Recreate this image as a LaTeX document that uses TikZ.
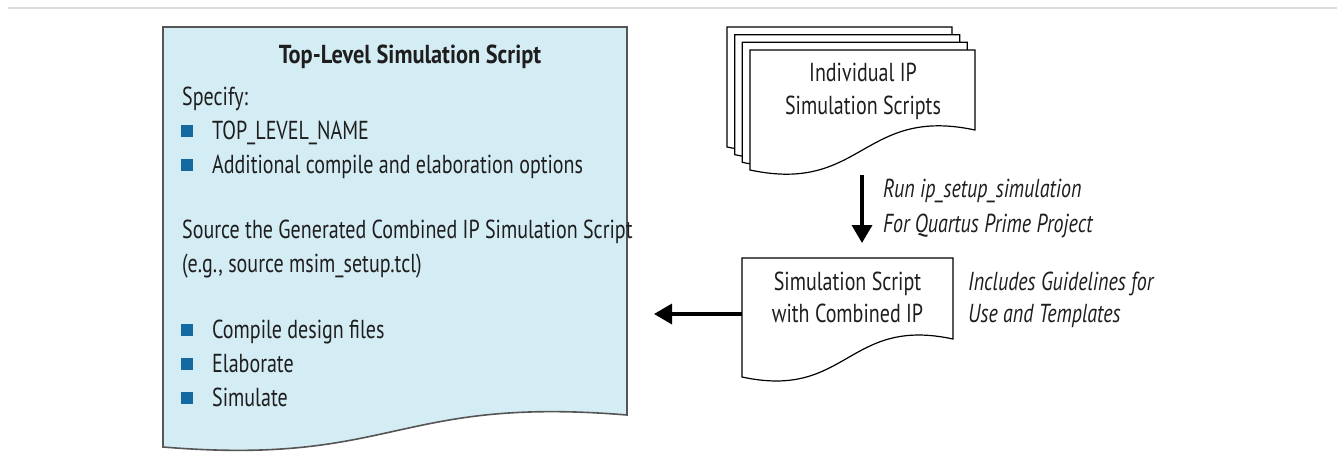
\documentclass[tikz,border=0pt]{standalone}
\usepackage{fontspec}
\setmainfont{PT Sans}[FakeStretch=0.77]
\newfontfamily\titlefont{PT Sans}[FakeStretch=0.86]
\usetikzlibrary{arrows.meta}
\definecolor{docfill}{RGB}{212,236,244}
\definecolor{docedge}{RGB}{85,85,85}
\definecolor{bulletc}{RGB}{20,105,160}
\definecolor{txt}{RGB}{30,30,30}
\definecolor{rule}{RGB}{221,221,221}
\begin{document}
\begin{tikzpicture}[x=1pt,y=-1pt,
  lbl/.style={inner sep=0pt, text=txt, font=\fontsize{26}{30}\selectfont, anchor=base west},
  ctr/.style={lbl, anchor=base},
  itl/.style={lbl, font=\fontsize{26}{30}\selectfont\itshape},
  bul/.style={fill=bulletc, draw=none, minimum size=12pt, inner sep=0pt},
  paper/.style={draw=black, line width=1.2pt, fill=white},
  arr/.style={line width=3.5pt, -{Triangle[length=18pt,width=20pt]}},
  ghost/.style={draw=none, inner sep=0pt}
]
\useasboundingbox (0,0) rectangle (1337,471);
% top rule
\coordinate (r1) at (8,7.5);
\coordinate (r2) at (1337,7.5);
\draw[rule, line width=2pt] (r1) -- (r2);

% main document
\draw[docedge, line width=1.6pt, fill=docfill]
  (163,27) -- (627,27) -- (627,415)
  .. controls (395,395.8) and (395,466.2) .. (163,447) -- cycle;
\node[lbl, anchor=base, font=\fontsize{26}{30}\titlefont\bfseries] (title) at (410,63) {Top-Level Simulation Script};
\node[lbl] (spec) at (182,105) {Specify:};
\node[bul] (b1) at (187,130.5) {};
\node[lbl] (t1) at (212,139) {TOP\_LEVEL\_NAME};
\node[bul] (b2) at (187,164.5) {};
\node[lbl] (t2) at (212,173) {Additional compile and elaboration options};
\node[lbl] (src) at (182,238) {Source the Generated Combined IP Simulation Script};
\node[lbl] (eg) at (182,272) {(e.g., source msim\_setup.tcl)};
\node[bul] (b3) at (187,329.5) {};
\node[lbl] (t3) at (212,338) {Compile design files};
\node[bul] (b4) at (187,363.5) {};
\node[lbl] (t4) at (212,372) {Elaborate};
\node[bul] (b5) at (187,397.5) {};
\node[lbl] (t5) at (212,406) {Simulate};

% stacked individual scripts
\foreach \s in {3,2,1,0} {
  \begin{scope}[shift={(-7.67*\s,-7.67*\s)}]
    \draw[paper] (750,50) -- (975,50) -- (975,130)
      .. controls (862.5,106) and (862.5,194) .. (750,170) -- cycle;
  \end{scope}
}
\node[ctr] (ind1) at (863,81) {Individual IP};
\node[ctr] (ind2) at (863,114) {Simulation Scripts};

% down arrow
\coordinate (d1) at (862,175);
\coordinate (d2) at (862,243);
\draw[arr] (d1) -- (d2);
\node[itl] (run1) at (883,197) {Run ip\_setup\_simulation};
\node[itl] (run2) at (883,232) {For Quartus Prime Project};

% combined script document
\draw[paper] (742,258) -- (953,258) -- (953,339)
  .. controls (847.5,316.2) and (847.5,399.8) .. (742,377) -- cycle;
\node[ghost, minimum width=211pt, minimum height=112pt] (sdoc) at (847.5,314) {};
\node[ctr] (c1) at (847.5,290) {Simulation Script};
\node[ctr] (c2) at (847.5,322) {with Combined IP};
\node[itl] (g1) at (968,290) {Includes Guidelines for};
\node[itl] (g2) at (968,322) {Use and Templates};

% left arrow
\coordinate (lt) at (654,314);
\draw[arr] (sdoc.west) -- (lt);
\end{tikzpicture}
\end{document}
